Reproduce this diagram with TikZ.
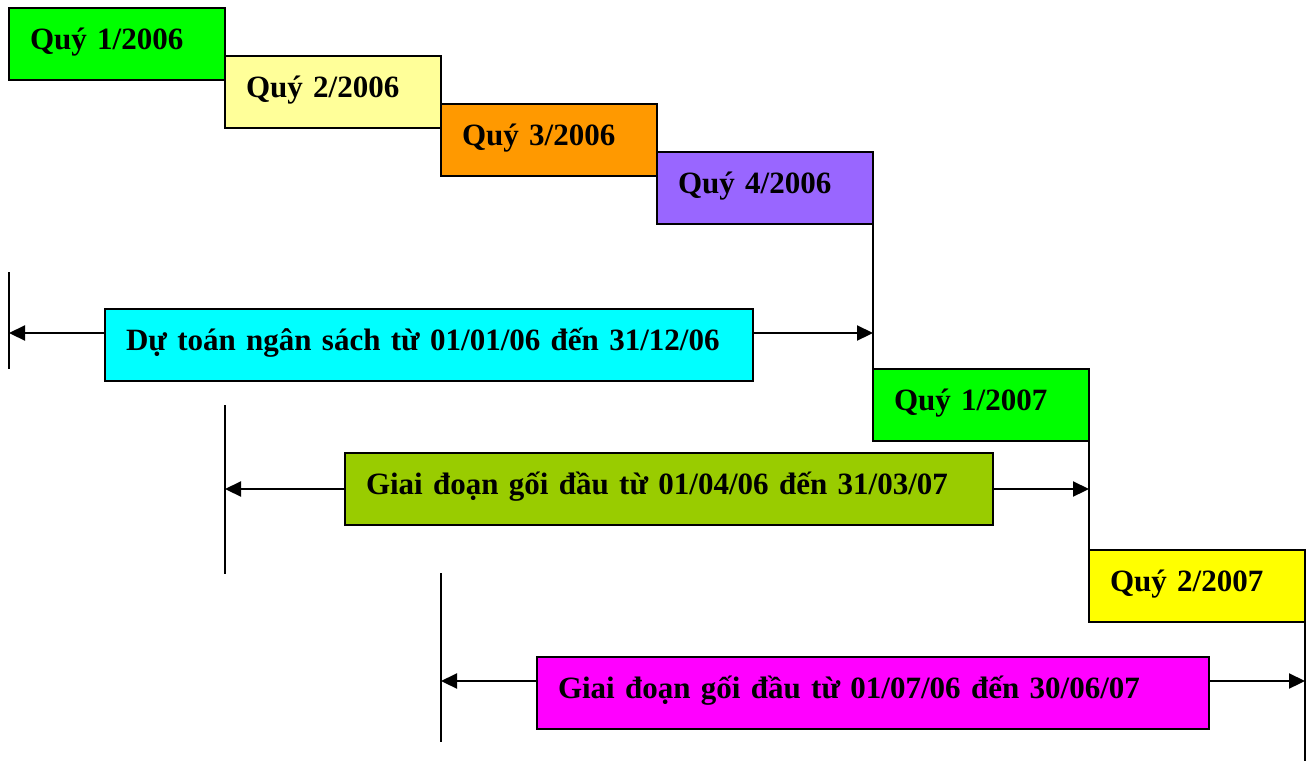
\documentclass[tikz,border=0pt]{standalone}
\usepackage{fontspec}
\setmainfont{Liberation Serif}
\usetikzlibrary{arrows.meta}
\definecolor{qgreen}{HTML}{00FF00}
\definecolor{qpale}{HTML}{FFFF99}
\definecolor{qorange}{HTML}{FF9900}
\definecolor{qviolet}{HTML}{9966FF}
\definecolor{qcyan}{HTML}{00FFFF}
\definecolor{qolive}{HTML}{99CC00}
\definecolor{qyellow}{HTML}{FFFF00}
\definecolor{qmagenta}{HTML}{FF00FF}
\tikzset{
  period/.style={draw=black, line width=1.6pt, anchor=north west, outer sep=0pt,
    minimum height=72pt, inner xsep=21pt, inner ysep=0pt, align=left,
    font=\fontsize{31}{36}\selectfont\bfseries, text height=22pt, text depth=11pt},
  quarter/.style={period, text width=174pt},
  span/.style={period, text width=#1},
  marker/.style={line width=2.2pt},
  tick/.style={line width=2.2pt, -{Triangle[length=16pt,width=15pt]}}
}
\begin{document}
\begin{tikzpicture}[x=1pt,y=-1pt]
\useasboundingbox (0,0) rectangle (1312,761);

% quarters of 2006 and 2007
\node[quarter, fill=qgreen]  (q1) at (9,8)     {Quý 1/2006};
\node[quarter, fill=qpale]   (q2) at (225,56)  {Quý 2/2006};
\node[quarter, fill=qorange] (q3) at (441,104) {Quý 3/2006};
\node[quarter, fill=qviolet] (q4) at (657,152) {Quý 4/2006};
\node[quarter, fill=qgreen]  (q5) at (873,369) {Quý 1/2007};
\node[quarter, fill=qyellow] (q6) at (1089,550){Quý 2/2007};

% budget periods
\node[span=606pt, fill=qcyan]    (d)  at (105,309) {Dự toán ngân sách từ 01/01/06 đến 31/12/06};
\node[span=606pt, fill=qolive]   (g1) at (345,453) {Giai đoạn gối đầu từ 01/04/06 đến 31/03/07};
\node[span=630pt, fill=qmagenta] (g2) at (537,657) {Giai đoạn gối đầu từ 01/07/06 đến 30/06/07};

% boundary markers
\coordinate (a1) at (9,272);   \coordinate (a2) at (9,369);
\coordinate (b1) at (225,405); \coordinate (b2) at (225,574);
\coordinate (c1) at (441,573); \coordinate (c2) at (441,742);
\coordinate (e2) at (1305,761);
\draw[marker] (a1) -- (a2);
\draw[marker] (b1) -- (b2);
\draw[marker] (c1) -- (c2);
\draw[marker] (q4.south east) -- (q5.north west);
\draw[marker] (q5.south east) -- (q6.north west);
\draw[marker] (q6.south east) -- (e2);

% period extents
\draw[tick] ([yshift=12pt]d.west) -- ([yshift=12pt]d.west -| a1);
\draw[tick] ([yshift=12pt]d.east) -- ([yshift=12pt]d.east -| q4.east);
\draw[tick] (g1.west) -- (g1.west -| b1);
\draw[tick] (g1.east) -- (g1.east -| q5.east);
\draw[tick] ([yshift=12pt]g2.west) -- ([yshift=12pt]g2.west -| c1);
\draw[tick] ([yshift=12pt]g2.east) -- ([yshift=12pt]g2.east -| q6.east);
\end{tikzpicture}
\end{document}
